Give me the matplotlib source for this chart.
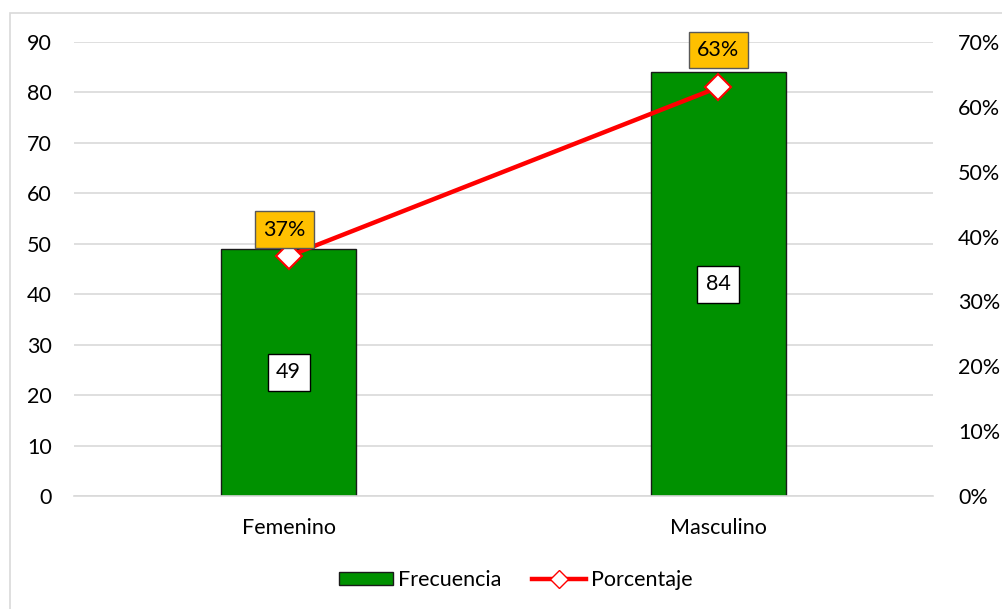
import matplotlib.pyplot as plt
from matplotlib.patches import Rectangle
from matplotlib.lines import Line2D
from matplotlib.ticker import PercentFormatter

categorias = ["Femenino", "Masculino"]
frecuencia = [49, 84]
porcentaje = [0.37, 0.63]
etiquetas_pct = ["37%", "63%"]
offset_pct = [(-3, 19), (0, 27)]  # points from the marker

plt.rcParams['font.family'] = ['Lato', 'DejaVu Sans']
fs = 15.5

fig = plt.figure(figsize=(10.03, 6.09), dpi=100)
ax = fig.add_axes([74 / 1003, 113 / 609, 859 / 1003, 454 / 609])
ax2 = ax.twinx()

# light border around chart area
fig.patches.append(Rectangle((10 / 1003, -0.1), 1.2, (609 - 13) / 609 + 0.1,
                             transform=fig.transFigure, fill=False,
                             edgecolor="#D9D9D9", linewidth=1.2))

x = list(range(len(categorias)))
ax.bar(x, frecuencia, width=0.314, color="#009100", edgecolor="#1a1a1a",
       linewidth=1.0, zorder=2)
for xi, v in zip(x, frecuencia):
    ax.text(xi, v / 2, str(v), ha="center", va="center", fontsize=fs, zorder=4,
            bbox=dict(boxstyle="square,pad=0.4", facecolor="white",
                      edgecolor="black", linewidth=1.0))

ax.set_xlim(-0.5, 1.5)
ax.set_ylim(0, 90)
ax.set_yticks(range(0, 91, 10))
ax.set_xticks(x)
ax.set_xticklabels(categorias)
ax.grid(axis="y", color="#D9D9D9", linewidth=1.2, zorder=0)
ax.set_axisbelow(True)
for s in ax.spines.values():
    s.set_visible(False)
for s in ax2.spines.values():
    s.set_visible(False)
ax.spines["bottom"].set_visible(True)
ax.spines["bottom"].set_color("#D9D9D9")
ax.spines["bottom"].set_linewidth(1.2)
ax.tick_params(axis="y", length=0, labelsize=fs, pad=16)
ax.tick_params(axis="x", length=0, labelsize=fs, pad=16)

ax2.plot(x, porcentaje, color="#FF0000", linewidth=3.2, marker="D", markersize=13,
         markerfacecolor="white", markeredgecolor="#FF0000", markeredgewidth=1.5,
         zorder=3)
ax2.set_ylim(0, 0.70)
ax2.set_yticks([i / 10 for i in range(8)])
ax2.yaxis.set_major_formatter(PercentFormatter(1.0, decimals=0))
ax2.tick_params(axis="y", length=0, labelsize=fs, pad=18)
for xi, p, t, off in zip(x, porcentaje, etiquetas_pct, offset_pct):
    ax2.annotate(t, (xi, p), xytext=off, textcoords="offset points",
                 ha="center", va="center", fontsize=fs, zorder=5,
                 bbox=dict(boxstyle="square,pad=0.38", facecolor="#FFC000",
                           edgecolor="#595959", linewidth=1.0))

handles = [Rectangle((0, 0), 1, 1, facecolor="#009100", edgecolor="#1a1a1a"),
           Line2D([0], [0], color="#FF0000", linewidth=3.2, marker="D", markersize=9,
                  markerfacecolor="white", markeredgecolor="#FF0000")]
fig.legend(handles, ["Frecuencia", "Porcentaje"], loc="center",
           bbox_to_anchor=(516 / 1003, 1 - 580 / 609), ncol=2, frameon=False,
           fontsize=fs, handlelength=2.5, handleheight=0.55, columnspacing=1.4,
           handletextpad=0.25)

fig.savefig("out.png", dpi=100)
